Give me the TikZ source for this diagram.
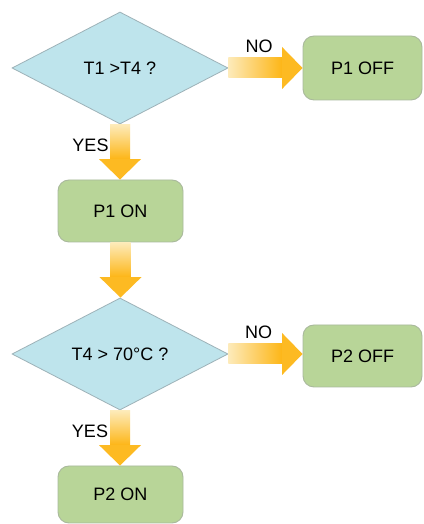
\documentclass[tikz,border=0pt]{standalone}
\usepackage{fontspec}
\setmainfont{Liberation Sans}
\usetikzlibrary{shapes.geometric,calc}
\definecolor{dfill}{HTML}{BEE4EC}
\definecolor{dline}{HTML}{9DB2B8}
\definecolor{bfill}{HTML}{B8D598}
\definecolor{bline}{HTML}{A9B99C}
\definecolor{apale}{HTML}{FDEBBA}
\definecolor{aorange}{HTML}{FDB515}
\definecolor{ahead}{HTML}{FDBA22}
\tikzset{
  decision/.style={diamond, draw=dline, fill=dfill, line width=0.8pt, inner sep=0pt,
    minimum width=216pt, minimum height=112pt, font=\fontsize{18}{21}\selectfont},
  action/.style={rectangle, rounded corners=11pt, draw=bline, fill=bfill, line width=0.9pt,
    font=\fontsize{18}{21}\selectfont},
  lbl/.style={font=\fontsize{18}{21}\selectfont, inner sep=0pt},
  harrow/.style={left color=apale, right color=aorange, draw=none},
  varrow/.style={top color=apale, bottom color=aorange, draw=none},
  arrowhead/.style={fill=ahead, draw=none}
}
\newcommand\fatH[2]{%
  \path[harrow] let \p1=(#1.east), \p2=(#2.west) in
    (\x1,\y1+10pt) -- (\x2-20pt,\y1+10pt) -- (\x2-20pt,\y1-10pt) -- (\x1,\y1-10pt) -- cycle;
  \path[arrowhead] let \p1=(#1.east), \p2=(#2.west) in
    (\x2-20.5pt,\y1+21pt) -- (\x2,\y1) -- (\x2-20.5pt,\y1-21pt) -- cycle;}
\newcommand\fatV[2]{%
  \path[varrow] let \p1=(#1.south), \p2=(#2.north) in
    (\x1-10pt,\y1) -- (\x1-10pt,\y2+20pt) -- (\x1+10pt,\y2+20pt) -- (\x1+10pt,\y1) -- cycle;
  \path[arrowhead] let \p1=(#1.south), \p2=(#2.north) in
    (\x1-21pt,\y2+20.5pt) -- (\x1,\y2) -- (\x1+21pt,\y2+20.5pt) -- cycle;}
\begin{document}
\begin{tikzpicture}[x=1pt,y=1pt]
\useasboundingbox (0,0) rectangle (423,524);
\fill[white] (0,0) rectangle (423,524);
\node[decision] (d1) at (120,456) {T1 >T4 ?};
\node[action, minimum width=119pt, minimum height=64pt] (p1off) at (362.5,456) {P1 OFF};
\node[action, minimum width=125pt, minimum height=62pt] (p1on) at (120.5,313) {P1 ON};
\node[decision] (d2) at (120,170) {T4 > 70°C ?};
\node[action, minimum width=119pt, minimum height=62pt] (p2off) at (362.5,168) {P2 OFF};
\node[action, minimum width=125pt, minimum height=57pt] (p2on) at (120.5,29.5) {P2 ON};
\fatH{d1}{p1off}
\fatV{d1}{p1on}
\fatV{p1on}{d2}
\fatH{d2}{p2off}
\fatV{d2}{p2on}
\node[lbl] (no1) at (259,477.5) {NO};
\node[lbl] (yes1) at (90.5,379) {YES};
\node[lbl] (no2) at (258.5,192) {NO};
\node[lbl] (yes2) at (90,93) {YES};
\end{tikzpicture}
\end{document}
